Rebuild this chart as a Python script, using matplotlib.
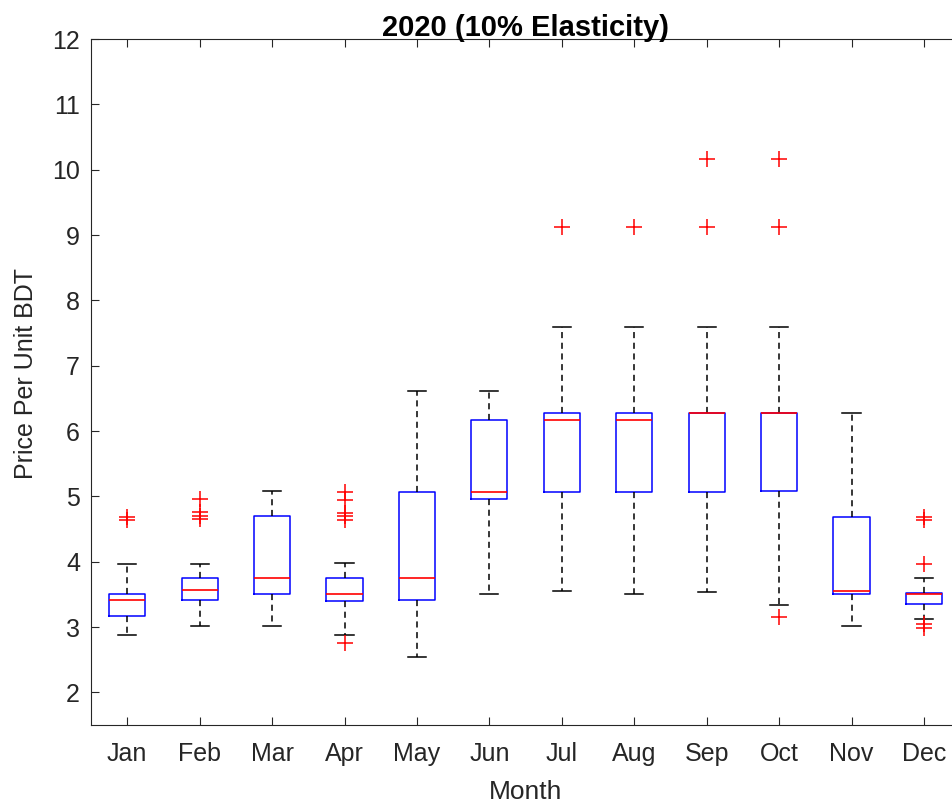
# -*- coding: utf-8 -*-
'''
Monthly price distribution for 2020 under 10% elasticity, drawn as a
MATLAB-style box plot (blue boxes, red medians, dashed whiskers, red + outliers).
'''

from matplotlib import pyplot as plt

plt.rc('font', family='Liberation Sans', size=18)


# 1 Box statistics per month (Price Per Unit, BDT).
#==============================================================================
months = ['Jan', 'Feb', 'Mar', 'Apr', 'May', 'Jun',
          'Jul', 'Aug', 'Sep', 'Oct', 'Nov', 'Dec']

q1     = [3.17, 3.41, 3.50, 3.40, 3.41, 4.96, 5.07, 5.07, 5.07, 5.08, 3.50, 3.35]
median = [3.41, 3.56, 3.75, 3.50, 3.75, 5.07, 6.17, 6.17, 6.27, 6.27, 3.55, 3.51]
q3     = [3.50, 3.75, 4.70, 3.75, 5.07, 6.17, 6.27, 6.27, 6.27, 6.27, 4.68, 3.52]
whislo = [2.88, 3.02, 3.02, 2.88, 2.54, 3.50, 3.55, 3.50, 3.53, 3.34, 3.02, 3.13]
whishi = [3.97, 3.97, 5.08, 3.98, 6.61, 6.61, 7.59, 7.59, 7.59, 7.59, 6.27, 3.75]

outliers = [[4.68, 4.64],
            [4.96, 4.76, 4.70, 4.65],
            [],
            [5.07, 4.95, 4.75, 4.70, 4.64, 2.75],
            [],
            [],
            [9.13],
            [9.13],
            [10.17, 9.13],
            [10.17, 9.13, 3.16],
            [],
            [4.68, 4.64, 3.97, 3.04, 2.99]]

yTicks = [2, 3, 4, 5, 6, 7, 8, 9, 10, 11, 12]
#==============================================================================


stats = []
for i in range(len(months)):
    stats.append({'label': months[i], 'q1': q1[i], 'med': median[i], 'q3': q3[i],
                  'whislo': whislo[i], 'whishi': whishi[i], 'fliers': outliers[i]})


#******************************************************************************
axColor = '#262626'

fig = plt.figure(figsize=(9.52, 8.05), dpi=100)
ax = fig.add_axes([0.0956, 0.0994, 0.913, 0.852])

ax.bxp(stats, positions=range(1, len(months) + 1), widths=0.5,
       boxprops=dict(color='blue', linewidth=1.1),
       medianprops=dict(color='red', linewidth=1.2),
       whiskerprops=dict(color='black', linestyle=(0, (4, 3)), linewidth=1.1),
       capprops=dict(color='black', linewidth=1.1),
       flierprops=dict(marker='+', markeredgecolor='red', markersize=11,
                       markeredgewidth=1.1, linestyle='none'))

ax.set_xlim(0.5, len(months) + 0.5)
ax.set_ylim(1.5, 12)
ax.set_yticks(yTicks)
ax.set_xticks(range(1, len(months) + 1))
ax.set_xticklabels(months)

for side in ['left', 'bottom', 'top', 'right']:
    ax.spines[side].set_color(axColor)
    ax.spines[side].set_linewidth(0.8)

ax.tick_params(axis='both', which='major', direction='in', length=6, width=0.8,
               colors=axColor, top=True, right=True)
ax.tick_params(axis='x', pad=12)
ax.tick_params(axis='y', pad=8)

ax.set_title('2020 (10% Elasticity)', fontweight='bold', fontsize=21, pad=2)
ax.set_xlabel('Month', color=axColor, fontsize=19, labelpad=10)
ax.set_ylabel('Price Per Unit BDT', color=axColor, labelpad=10)
ax.yaxis.label.set_y(0.513)

plt.savefig('out.png', dpi=100)
#******************************************************************************
